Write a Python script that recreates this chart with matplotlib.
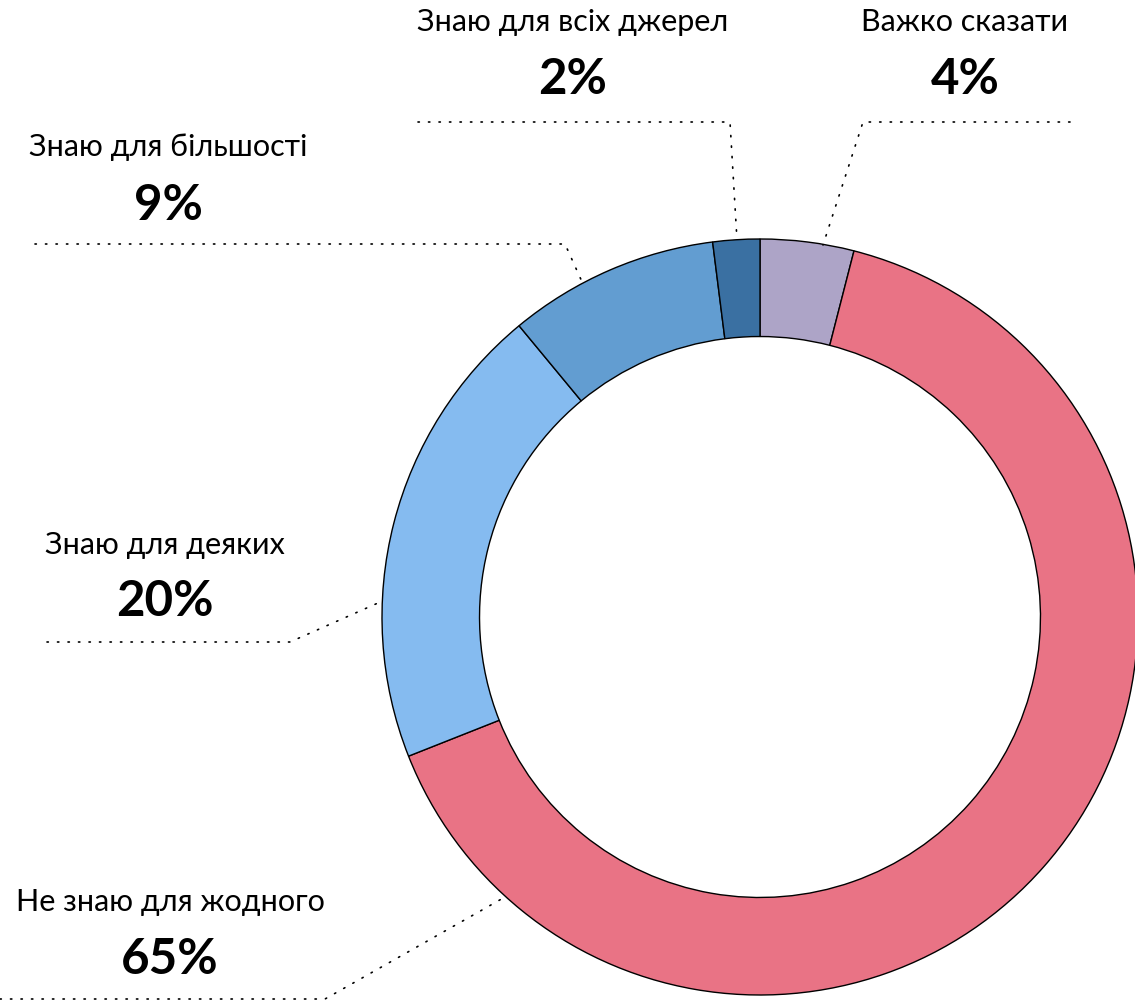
import matplotlib
matplotlib.use("Agg")
import matplotlib.pyplot as plt

# Survey answers, clockwise from 12 o'clock
categories = ["Важко сказати", "Не знаю для жодного", "Знаю для деяких",
              "Знаю для більшості", "Знаю для всіх джерел"]
values = [4, 65, 20, 9, 2]
colors = ["#ADA4C7", "#E97385", "#85BBF0", "#629DD1", "#3A70A2"]

W, H = 1135, 1004
fig = plt.figure(figsize=(W / 100, H / 100), dpi=100)
ax = fig.add_axes([0, 0, 1, 1])

cx, cy, R = 760, H - 618, 378
ax.pie(values, colors=colors, startangle=90, counterclock=False,
       center=(cx, cy), radius=R, frame=True,
       wedgeprops=dict(width=R * 0.258, edgecolor="black", linewidth=1.0))
ax.set_xlim(0, W)
ax.set_ylim(0, H)
ax.set_aspect("equal")
ax.axis("off")

font = "Lato"
# label anchor (name x, name y, pct y) and leader line polyline, in pixel coords from top
layout = {
    "Знаю для всіх джерел": (573, 22, 80, [(418, 123), (730, 123), (737, 241)]),
    "Важко сказати": (965, 22, 80, [(1070, 123), (863, 123), (823, 246)]),
    "Знаю для більшості": (168, 147, 205, [(35, 245), (565, 245), (583, 285)]),
    "Знаю для деяких": (165, 545, 602, [(47, 643), (290, 643), (378, 604)]),
    "Не знаю для жодного": (170, 902, 960, [(0, 1000), (325, 1000), (505, 898)]),
}

for name, val in zip(categories, values):
    x, ny, py, line = layout[name]
    ax.text(x, H - ny, name, ha="center", va="center", fontsize=22,
            family=font, color="black")
    ax.text(x, H - py, f"{val}%", ha="center", va="center", fontsize=35.5,
            family=font, fontweight="bold", color="black")
    xs = [p[0] for p in line]
    ys = [H - p[1] for p in line]
    ax.plot(xs, ys, color="black", linewidth=1.2, linestyle=(0, (0.8, 5.5)),
            solid_capstyle="round", dash_capstyle="round")

fig.savefig("out.png", dpi=100, facecolor="white")
